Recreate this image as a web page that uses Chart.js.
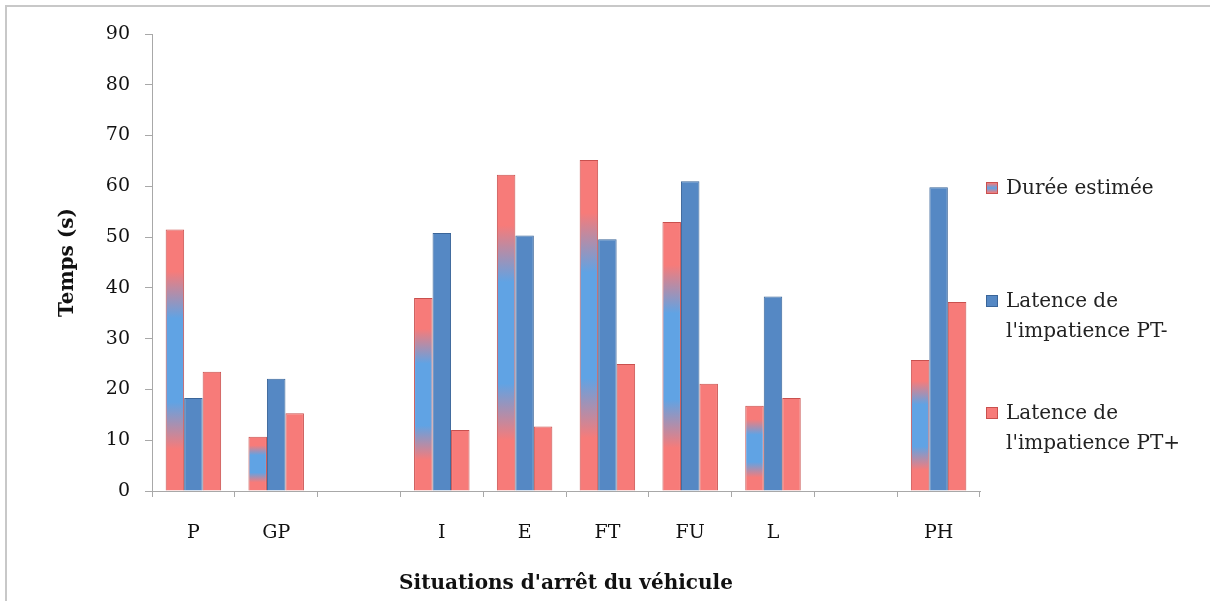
<!DOCTYPE html>
<html>
<head>
<meta charset="utf-8">
<script src="https://cdn.jsdelivr.net/npm/chart.js@4/dist/chart.umd.min.js"></script>
<style>
  html, body { margin: 0; padding: 0; background: #fff; }
  #wrap { position: relative; width: 1210px; height: 601px; overflow: hidden; }
  #frame { position: absolute; left: 5px; top: 5px; width: 1220px; height: 620px; border: 2px solid #c8c8c8; box-sizing: border-box; }
  #legende { position: absolute; left: 986px; top: 0; font-family: "DejaVu Serif", serif; font-size: 20px; color: #222; }
  .item { position: absolute; left: 0; white-space: nowrap; line-height: 30px; }
  .box { position: absolute; left: 0; width: 10px; height: 10px; }
  .txt { position: absolute; left: 20px; }
</style>
</head>
<body>
<div id="wrap">
  <canvas id="graphe" width="1210" height="601"></canvas>
  <div id="frame"></div>
  <div id="legende"></div>
</div>
<script>
// Situations (les cases vides sont des espaces dans le graphique d'origine)
const situations = ['P', 'GP', '', 'I', 'E', 'FT', 'FU', 'L', '', 'PH'];

// Temps en secondes
const dureeEstimee = [51.5, 10.7, null, 38.0, 62.3, 65.2, 53.0, 16.8, null, 25.8];
const latencePTmoins = [18.3, 22.1, null, 50.8, 50.3, 49.6, 61.0, 38.3, null, 59.8];
const latencePTplus = [23.5, 15.3, null, 12.0, 12.7, 25.0, 21.1, 18.3, null, 37.2];

const nomsSeries = ['Durée estimée', "Latence de\nl'impatience PT-", "Latence de\nl'impatience PT+"];

const rouge = '#f77b79';
const rougeBord = '#c9504e';
const bleu = '#5588c4';
const bleuBord = '#3a6599';
const bleuClair = '#60a3e4';

// dégradé rouge / bleu / rouge propre à chaque barre
function degradeBarre(ctx) {
    const chart = ctx.chart;
    if (!chart.chartArea || ctx.raw == null) return rouge;
    const y = chart.scales.y;
    const haut = y.getPixelForValue(ctx.raw);
    const bas = y.getPixelForValue(0);
    const g = chart.ctx.createLinearGradient(0, haut, 0, bas);
    g.addColorStop(0, rouge);
    g.addColorStop(0.16, rouge);
    g.addColorStop(0.34, bleuClair);
    g.addColorStop(0.66, bleuClair);
    g.addColorStop(0.84, rouge);
    g.addColorStop(1, rouge);
    return g;
}

const police = { family: '"DejaVu Serif", serif', size: 19 };
const gris = '#a8a8a8';

new Chart(document.getElementById('graphe').getContext('2d'), {
    type: 'bar',
    data: {
        labels: situations,
        datasets: [
            { label: nomsSeries[0], data: dureeEstimee, backgroundColor: degradeBarre, borderColor: rougeBord, borderWidth: 1 },
            { label: nomsSeries[1], data: latencePTmoins, backgroundColor: bleu, borderColor: bleuBord, borderWidth: 1 },
            { label: nomsSeries[2], data: latencePTplus, backgroundColor: rouge, borderColor: rougeBord, borderWidth: 1 }
        ]
    },
    options: {
        responsive: false,
        animation: false,
        layout: { padding: { left: 0, right: 230, top: 34, bottom: 0 } },
        datasets: { bar: { categoryPercentage: 0.67, barPercentage: 1 } },
        plugins: { legend: { display: false }, tooltip: { enabled: false } },
        scales: {
            x: {
                offset: true,
                grid: { offset: true, drawOnChartArea: false, drawTicks: true, tickLength: 6, color: gris },
                border: { color: gris },
                ticks: { color: '#111', font: police, padding: 25, maxRotation: 0 },
                title: { display: true, text: "Situations d'arrêt du véhicule", color: '#111',
                         font: { family: police.family, size: 20, weight: 'bold' }, padding: { top: 0, bottom: 5 } },
                afterFit: s => { s.height = 110; }
            },
            y: {
                min: 0, max: 90,
                grid: { drawOnChartArea: false, drawTicks: true, tickLength: 7, color: gris },
                border: { color: gris },
                ticks: { stepSize: 10, color: '#111', font: police, padding: 15 },
                title: { display: true, text: 'Temps (s)', color: '#111',
                         font: { family: police.family, size: 20, weight: 'bold' }, padding: { top: 56, bottom: 0 } },
                afterFit: s => { s.width = 152; }
            }
        }
    }
});

// légende à droite (textes sur deux lignes)
const legende = document.getElementById('legende');
const positions = [172, 285, 397];
const fonds = ['linear-gradient(' + rouge + ' 0%, ' + bleuClair + ' 50%, ' + rouge + ' 100%)', bleu, rouge];
nomsSeries.forEach((nom, i) => {
    const item = document.createElement('div');
    item.className = 'item';
    item.style.top = positions[i] + 'px';
    const box = document.createElement('div');
    box.className = 'box';
    box.style.top = '10px';
    box.style.background = fonds[i];
    box.style.border = '1px solid ' + (i === 1 ? bleuBord : rougeBord);
    const txt = document.createElement('div');
    txt.className = 'txt';
    txt.innerHTML = nom.split('\n').join('<br>');
    item.appendChild(box);
    item.appendChild(txt);
    legende.appendChild(item);
});
</script>
</body>
</html>
